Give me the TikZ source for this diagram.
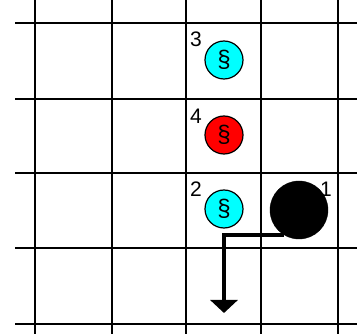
\documentclass[tikz,border=0pt]{standalone}
\usepackage{fontspec}
\setmainfont{Liberation Sans}
\usetikzlibrary{arrows.meta}

\definecolor{coinblue}{RGB}{0,255,255}
\definecolor{coinred}{RGB}{255,0,0}

\begin{document}
\begin{tikzpicture}[
    x=1pt, y=-1pt,
    gridline/.style={
        line width=2pt
    },
    coin/.style={
        draw,
        circle,
        line width=1.2pt,
        minimum size=38pt,
        inner sep=0pt,
        font=\fontsize{24}{26}\selectfont
    },
    num/.style={
        inner sep=0pt,
        font=\fontsize{21}{23}\selectfont
    },
    move/.style={
        -{Triangle[width=27pt,length=13pt]},
        line width=4pt
    }
]

\useasboundingbox (0,0) rectangle (357,334);

% board
\foreach \x in {35,112,186,261,338}
    \draw[gridline] (\x,0) -- (\x,334);
\foreach \y in {23,99,173,248,324}
    \draw[gridline] (15,\y) -- (357,\y);

% pieces
\node[coin, fill=coinblue] (coinA) at (224,60) {\S};
\node[coin, fill=coinred] (coinB) at (224,135) {\S};
\node[coin, fill=coinblue] (coinC) at (224,209) {\S};
\node[draw, circle, fill=black, minimum size=58pt, inner sep=0pt] (ball) at (299,210) {};

\node[num] (numA) at (196,39) {3};
\node[num] (numB) at (196,116) {4};
\node[num] (numC) at (196,189) {2};
\node[num] (numD) at (326,189) {1};

\coordinate (exit) at (224,313);
\draw[move] (ball.239) -| (exit);

\end{tikzpicture}
\end{document}
